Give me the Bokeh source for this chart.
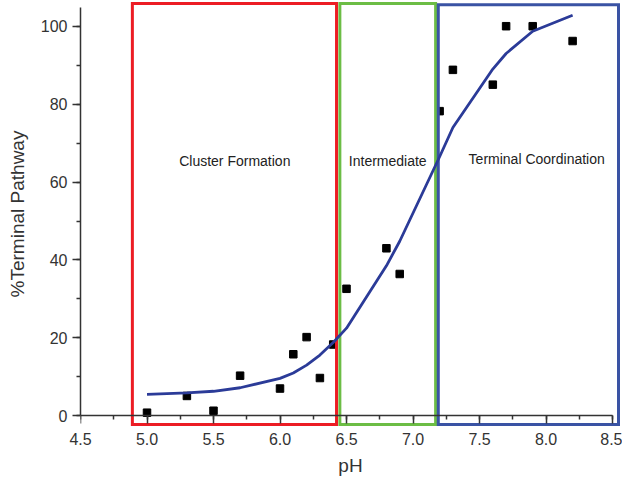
from bokeh.plotting import figure
from bokeh.models import (Range1d, SingleIntervalTicker, ColumnDataSource, LinearAxis,
                          CustomJSTickFormatter, PrintfTickFormatter)
from bokeh.core.properties import value
from bokeh.embed import file_html
from bokeh.resources import INLINE

# data
ph = [5.0, 5.3, 5.5, 5.7, 6.0, 6.1, 6.2, 6.3, 6.4, 6.5, 6.8, 6.9, 7.2, 7.3, 7.6, 7.7, 7.9, 8.2]
terminal_pct = [0.8, 5.1, 1.3, 10.3, 7.0, 15.8, 20.2, 9.7, 18.3, 32.6, 43.0, 36.4, 78.2, 88.8, 85.0, 100.0, 100.0, 96.2]
fit_pct = [5.5, 5.9, 6.3, 7.2, 9.6, 11.0, 13.0, 15.6, 18.8, 22.5, 38.5, 44.8, 66.5, 74.0, 89.0, 93.0, 98.7, 102.8]

region_names = ["Cluster Formation", "Intermediate", "Terminal Coordination"]
region_left = [4.89, 6.45, 7.19]
region_right = [6.425, 7.17, 8.545]
region_bottom = [-2.25, -2.25, -2.25]
region_top = [105.8, 105.8, 105.5]
region_colors = ["#EC1C24", "#6CBD45", "#3A53A4"]
label_x = [5.66, 6.81, 7.93]
label_y = [65.5, 65.5, 66.0]

FONT = "Liberation Sans"
AX = "#333333"

p = figure(width=622, height=478, output_backend="svg", toolbar_location=None,
           x_range=Range1d(4.5, 8.56), y_range=Range1d(-3.0, 106.6),
           min_border_left=80, min_border_right=2, min_border_top=0, min_border_bottom=0)
p.outline_line_color = None
p.xgrid.visible = False
p.ygrid.visible = False
p.background_fill_color = "white"
p.border_fill_color = "white"

# points
p.scatter(ph, terminal_pct, marker="square", size=7.5, fill_color="black", line_color="black")

# regions
src = ColumnDataSource(dict(left=region_left, right=region_right, bottom=region_bottom,
                            top=region_top, color=region_colors))
p.quad(left="left", right="right", bottom="bottom", top="top", source=src,
       fill_color=None, line_color="color", line_width=3, line_join="miter")

# fit
p.line(ph, fit_pct, line_color="#2B3B98", line_width=2.8)

# labels
p.text(label_x, label_y, text=region_names, text_font=value(FONT), text_font_size="14px",
       text_color="#222222", text_align="center", text_baseline="middle")


def style(ax):
    ax.axis_line_color = AX
    ax.axis_line_width = 1.5
    ax.major_tick_line_color = AX
    ax.minor_tick_line_color = AX
    ax.major_tick_line_width = 1.5
    ax.minor_tick_line_width = 1.5
    ax.major_tick_out = 8
    ax.major_tick_in = 0
    ax.minor_tick_out = 4
    ax.minor_tick_in = 0
    ax.major_label_text_font = FONT
    ax.major_label_text_font_size = "16px"
    ax.major_label_text_color = AX
    ax.axis_label_text_font = FONT
    ax.axis_label_text_font_style = "normal"
    ax.axis_label_text_color = AX
    ax.axis_label_text_font_size = "19px"


style(p.xaxis[0])
style(p.yaxis[0])

# x axis line + ticks at y = 0 (labels hidden here)
xa = p.xaxis[0]
xa.ticker = SingleIntervalTicker(interval=0.5, num_minor_ticks=2)
xa.fixed_location = 0
xa.bounds = (4.5, 8.5)
xa.formatter = CustomJSTickFormatter(code="return ''")
xa.major_label_standoff = 0

# x tick labels + title under the frame
xl = LinearAxis(ticker=SingleIntervalTicker(interval=0.5, num_minor_ticks=2),
                formatter=PrintfTickFormatter(format="%.1f"))
style(xl)
xl.axis_line_color = None
xl.major_tick_line_color = None
xl.minor_tick_line_color = None
xl.major_tick_out = 0
xl.minor_tick_out = 0
xl.major_label_standoff = 5
xl.axis_label = "pH"
xl.axis_label_standoff = 7
p.add_layout(xl, "below")

ya = p.yaxis[0]
ya.ticker = SingleIntervalTicker(interval=20, num_minor_ticks=2)
ya.bounds = (0, 104.75)
ya.axis_label = "%Terminal Pathway"
ya.major_label_standoff = 5
ya.axis_label_standoff = 10

open("out.html", "w").write(file_html(p, INLINE))
